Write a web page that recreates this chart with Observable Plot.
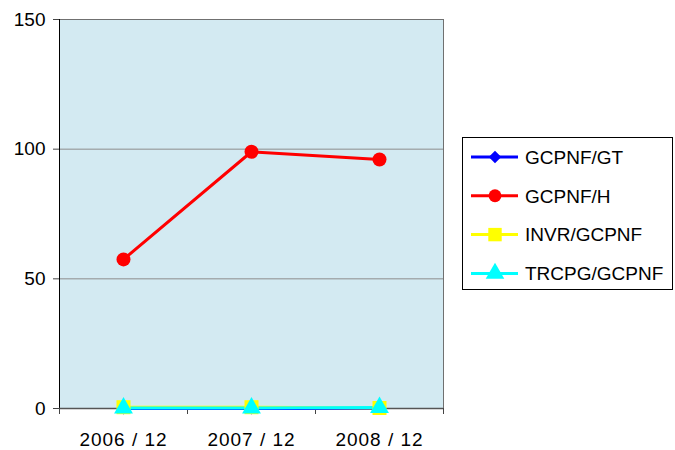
<!DOCTYPE html>
<html>
<head>
<meta charset="utf-8">
<script src="https://cdn.jsdelivr.net/npm/d3@7"></script>
<script src="https://cdn.jsdelivr.net/npm/@observablehq/plot@0.6"></script>
<style>
  html, body { margin: 0; padding: 0; background: #fff; }
  #wrap { position: relative; width: 675px; height: 450px; font-family: "Liberation Sans", Arial, sans-serif; }
  #legend { position: absolute; left: 0; top: 0; }
  .xlab text { letter-spacing: 1px; }
</style>
</head>
<body>
<div id="wrap"></div>
<script>
const periods = ["2006 / 12", "2007 / 12", "2008 / 12"];
const seriesNames = ["GCPNF/GT", "GCPNF/H", "INVR/GCPNF", "TRCPG/GCPNF"];
const gcpnfGT = [0, 0, 0];
const gcpnfH = [57.5, 99, 96];
const invrGCPNF = [0.5, 0.5, 0.2];
const trcpgGCPNF = [0.2, 0.2, 0.4];
const seriesColors = ["#0000FF", "#FF0000", "#FFFF00", "#00FFFF"];
const seriesSymbols = ["diamond2", "circle", "square", "triangle"];
const yTicks = [0, 50, 100, 150];

const seriesValues = [gcpnfGT, gcpnfH, invrGCPNF, trcpgGCPNF];
const rows = [];
seriesValues.forEach((vals, s) => vals.forEach((v, i) => rows.push({series: seriesNames[s], idx: i + 0.5, value: v})));

const marks = [
  Plot.frame({fill: "#D3EAF2", stroke: "#707070"}),
  Plot.gridY([50, 100], {stroke: "#8C8C8C", strokeOpacity: 1, strokeWidth: 1}),
  Plot.ruleX([0], {stroke: "#000", strokeWidth: 1}),
  Plot.ruleY([0], {stroke: "#555", strokeWidth: 1.5}),
  Plot.axisY({ticks: yTicks, tickSize: 6, tickPadding: 8, fontSize: 19, tickFormat: d => String(d), stroke: "#444", fill: "#000", label: null}),
  Plot.axisX({ticks: [0, 1, 2, 3], tickSize: 6, tickFormat: () => "", stroke: "#444", label: null}),
  Plot.axisX({ticks: [0.5, 1.5, 2.5], tickSize: 0, tickPadding: 24, fontSize: 19, tickFormat: d => periods[d - 0.5], fill: "#000", label: null, className: "xlab"})
];
seriesNames.forEach((name, s) => {
  const data = rows.filter(r => r.series === name);
  marks.push(Plot.line(data, {x: "idx", y: "value", stroke: seriesColors[s], strokeWidth: 3}));
});
seriesNames.forEach((name, s) => {
  const data = rows.filter(r => r.series === name);
  const sym = seriesSymbols[s];
  const r = {circle: 7, diamond2: 5.5, square: 7.9, triangle: 7}[sym];
  marks.push(Plot.dot(data, {x: "idx", y: "value", fill: seriesColors[s], symbol: () => sym, r}));
});

const chart = Plot.plot({
  width: 675,
  height: 450,
  marginLeft: 59,
  marginRight: 232,
  marginTop: 19,
  marginBottom: 42,
  style: {fontFamily: "'Liberation Sans', Arial, sans-serif", background: "transparent", overflow: "visible"},
  x: {type: "linear", domain: [0, 3], label: null},
  y: {domain: [0, 150], label: null},
  symbol: {type: "identity"},
  marks
});
document.getElementById("wrap").appendChild(chart);

// Legend
const lg = d3.select("#wrap").append("svg").attr("id", "legend").attr("width", 675).attr("height", 450);
lg.append("rect").attr("x", 462.5).attr("y", 137.5).attr("width", 210).attr("height", 152)
  .attr("fill", "#fff").attr("stroke", "#000").attr("stroke-width", 1);
const symMap = {diamond2: d3.symbolDiamond2, circle: d3.symbolCircle, square: d3.symbolSquare, triangle: d3.symbolTriangle};
const symSize = {diamond2: 100, circle: 130, square: 180, triangle: 150};
seriesNames.forEach((name, s) => {
  const yy = 157 + s * 38.8;
  const g = lg.append("g").attr("transform", `translate(0,${yy})`);
  g.append("line").attr("x1", 471).attr("x2", 518).attr("y1", 0).attr("y2", 0)
    .attr("stroke", seriesColors[s]).attr("stroke-width", 3);
  g.append("path").attr("d", d3.symbol(symMap[seriesSymbols[s]], symSize[seriesSymbols[s]])())
    .attr("transform", "translate(495,0)").attr("fill", seriesColors[s]);
  g.append("text").attr("x", 525).attr("y", 0).attr("dy", "0.36em")
    .attr("font-size", 19).attr("font-family", "'Liberation Sans', Arial, sans-serif").text(name);
});
</script>
</body>
</html>
